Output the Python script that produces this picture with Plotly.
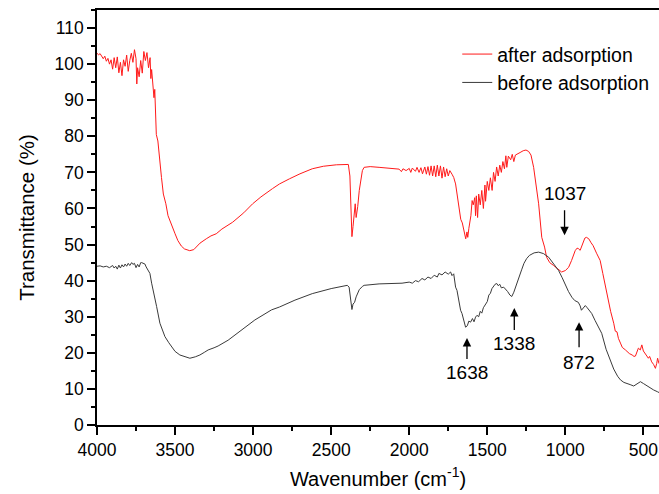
import plotly.graph_objects as go

# ---------------- data ----------------
wn_after = [4000, 3990, 3980, 3970, 3960, 3950, 3940, 3930, 3920, 3910, 3900, 3890, 3880, 3870, 3860,
            3850, 3840, 3830, 3820, 3810, 3800, 3790, 3780, 3770, 3760, 3750, 3745, 3740, 3730, 3720,
            3710, 3700, 3690, 3680, 3670, 3660, 3655, 3650, 3640, 3635, 3630, 3625, 3620, 3610, 3600,
            3590, 3587, 3575, 3559, 3545, 3523, 3500, 3482, 3460, 3440, 3406, 3380, 3360, 3340, 3300,
            3270, 3236, 3200, 3131, 3060, 3003, 2950, 2876, 2831, 2768, 2700, 2621, 2550, 2467, 2400,
            2390, 2380, 2372, 2367, 2360, 2352, 2346, 2340, 2330, 2320, 2310, 2300, 2289, 2250, 2193,
            2150, 2100, 2065, 2050, 2040, 2020, 2000, 1990, 1980, 1960, 1950, 1937, 1925, 1915, 1900,
            1890, 1880, 1870, 1860, 1850, 1840, 1830, 1820, 1810, 1800, 1790, 1780, 1770, 1760, 1750,
            1740, 1726, 1715, 1703, 1690, 1682, 1670, 1660, 1650, 1645, 1638, 1630, 1625, 1618, 1605,
            1597, 1590, 1580, 1575, 1570, 1562, 1555, 1545, 1535, 1525, 1515, 1511, 1500, 1490, 1480,
            1469, 1460, 1450, 1440, 1430, 1420, 1410, 1400, 1390, 1381, 1375, 1365, 1350, 1340, 1330,
            1320, 1309, 1290, 1270, 1252, 1235, 1220, 1203, 1190, 1171, 1151, 1133, 1120, 1100, 1075,
            1050, 1024, 1000, 979, 960, 937, 925, 917, 905, 890, 875, 865, 850, 835, 822,
            800, 777, 760, 740, 723, 710, 690, 680, 669, 660, 647, 635, 615, 600, 590,
            572, 560, 551, 540, 532, 520, 510, 500, 489, 480, 468, 460, 447, 435, 423,
            415, 409, 400]
t_after = [103.0, 102.6, 102.9, 102.0, 101.5, 102.2, 100.8, 101.6, 100.0, 101.2, 98.6, 101.8, 99.0, 102.0, 97.6,
           100.5, 96.8, 101.2, 99.4, 102.5, 98.0, 101.0, 103.0, 100.5, 104.0, 101.5, 94.5, 99.0, 96.5, 101.0,
           97.5, 103.5, 101.0, 103.2, 99.0, 101.8, 96.0, 98.5, 94.0, 90.7, 93.0, 84.0, 80.5, 78.7, 73.5,
           70.5, 68.6, 64.0, 61.3, 58.0, 55.8, 53.0, 51.1, 49.6, 48.8, 48.3, 48.6, 49.5, 50.4, 51.6,
           52.4, 53.0, 54.3, 56.2, 58.8, 61.3, 63.2, 65.5, 66.8, 68.2, 69.6, 71.0, 71.7, 72.1, 72.3,
           72.2, 69.0, 60.0, 52.2, 55.0, 60.0, 61.3, 57.5, 60.5, 65.0, 68.5, 70.5, 71.4, 71.6, 71.4,
           71.3, 71.0, 70.9, 70.2, 71.0, 70.5, 71.1, 70.0, 71.2, 70.3, 71.4, 70.0, 71.3, 69.6, 71.5,
           69.5, 71.6, 69.2, 71.8, 69.0, 71.8, 68.8, 72.0, 69.0, 71.8, 68.4, 71.5, 68.8, 71.0, 69.0,
           70.5, 69.5, 68.6, 66.8, 62.5, 60.3, 57.0, 56.0, 53.9, 53.0, 51.6, 53.5, 52.0, 54.5, 58.0,
           62.2, 61.0, 63.0, 58.0, 63.5, 57.5, 64.0, 61.0, 65.0, 60.0, 66.5, 62.0, 67.5, 65.0, 68.5,
           65.0, 70.0, 67.5, 71.5, 69.0, 72.0, 70.0, 73.0, 71.0, 74.6, 71.4, 74.5, 73.5, 75.0, 73.0,
           74.8, 75.0, 75.5, 76.0, 76.2, 75.8, 74.8, 71.4, 67.0, 61.3, 52.0, 49.3, 46.5, 45.0, 44.2,
           43.2, 42.4, 42.8, 43.7, 45.6, 48.3, 49.0, 48.9, 48.4, 50.0, 51.8, 52.0, 51.6, 50.5, 49.7,
           47.6, 45.6, 42.0, 37.5, 34.6, 31.5, 28.2, 26.0, 25.8, 24.0, 22.7, 21.5, 20.8, 20.2, 19.8,
           19.4, 19.0, 19.1, 20.5, 21.3, 20.8, 22.2, 20.5, 19.9, 19.2, 18.5, 19.0, 17.5, 16.8, 15.7,
           17.0, 18.5, 17.0]

wn_before = [4000, 3980, 3960, 3940, 3920, 3900, 3890, 3880, 3870, 3860, 3850, 3840, 3830, 3820, 3810,
             3800, 3790, 3778, 3770, 3760, 3750, 3740, 3730, 3720, 3714, 3700, 3693, 3685, 3674, 3661,
             3650, 3640, 3630, 3618, 3597, 3580, 3565, 3540, 3522, 3500, 3469, 3440, 3405, 3370, 3341,
             3310, 3288, 3250, 3224, 3160, 3074, 2989, 2882, 2831, 2732, 2621, 2500, 2397, 2385, 2375,
             2367, 2360, 2350, 2340, 2320, 2300, 2289, 2193, 2100, 2046, 2000, 1980, 1960, 1940, 1918,
             1900, 1880, 1860, 1840, 1820, 1810, 1790, 1770, 1750, 1735, 1726, 1715, 1703, 1694, 1682,
             1671, 1662, 1650, 1639, 1628, 1618, 1607, 1595, 1585, 1575, 1566, 1555, 1545, 1535, 1525,
             1511, 1500, 1490, 1480, 1470, 1460, 1450, 1439, 1430, 1420, 1410, 1395, 1380, 1370, 1355,
             1343, 1330, 1315, 1299, 1280, 1265, 1248, 1230, 1200, 1171, 1140, 1107, 1075, 1043, 1020,
             1000, 980, 958, 940, 917, 905, 897, 885, 872, 860, 845, 831, 810, 782, 767,
             739, 715, 690, 665, 647, 625, 605, 585, 562, 540, 519, 500, 476, 455, 434,
             409, 400]
t_before = [44.0, 44.1, 43.8, 44.0, 43.6, 44.2, 43.5, 44.0, 43.2, 44.3, 43.5, 44.4, 43.8, 44.6, 44.0,
            44.8, 44.2, 45.0, 44.5, 44.8, 43.6, 44.5, 43.8, 45.0, 45.0, 44.6, 44.6, 43.8, 42.9, 42.0,
            39.3, 37.4, 34.8, 32.8, 28.2, 26.0, 24.5, 22.8, 21.7, 20.4, 19.4, 18.9, 18.5, 18.9, 19.4,
            20.2, 20.8, 21.4, 21.9, 23.5, 26.3, 29.1, 31.9, 32.7, 34.6, 36.4, 37.8, 38.7, 38.2, 35.0,
            32.0, 33.5, 34.0, 35.5, 37.5, 38.4, 38.7, 39.1, 39.2, 39.3, 39.6, 39.3, 40.0, 39.7, 40.6,
            40.2, 41.0, 40.6, 41.5, 41.0, 42.0, 41.6, 42.4, 41.8, 42.4, 41.4, 41.9, 38.2, 37.3, 34.0,
            31.8, 30.9, 28.5, 27.1, 27.5, 28.8, 28.5, 29.5, 28.6, 29.9, 30.4, 30.0, 31.5, 31.0, 32.5,
            33.7, 34.2, 36.0, 36.5, 37.8, 38.5, 39.0, 39.2, 38.6, 39.0, 38.0, 38.2, 37.5, 37.0, 36.0,
            35.6, 36.8, 38.8, 41.0, 43.0, 44.8, 46.1, 47.0, 47.7, 47.9, 47.5, 46.5, 44.8, 42.8, 40.8,
            38.7, 37.0, 35.4, 34.5, 34.0, 33.0, 31.8, 32.5, 33.1, 32.5, 31.6, 30.9, 29.0, 26.8, 25.4,
            21.0, 18.0, 15.5, 13.5, 12.5, 11.8, 11.6, 11.2, 10.8, 11.3, 12.0, 11.5, 10.8, 10.2, 9.7,
            9.2, 9.0]

series_names = ["after adsorption", "before adsorption"]
x_tickvals = [4000, 3500, 3000, 2500, 2000, 1500, 1000, 500]
y_tickvals = [0, 10, 20, 30, 40, 50, 60, 70, 80, 90, 100, 110]

peak_labels = ["1037", "1638", "1338", "872"]
# arrow head (wavenumber, transmittance) and label offset from the head in px
peak_head_x = [1005, 1630, 1327, 912]
peak_head_y = [52.6, 24.1, 32.4, 28.5]
peak_label_dy = [-42, 34, 35, 40]
peak_start_gap = [5, 1, 1, 3]

FONT = "Liberation Sans, Arial, Helvetica, sans-serif"

fig = go.Figure()
fig.add_trace(go.Scatter(x=wn_after, y=t_after, mode="lines", name=series_names[0],
                         line=dict(color="#ff1a1a", width=1)))
fig.add_trace(go.Scatter(x=wn_before, y=t_before, mode="lines", name=series_names[1],
                         line=dict(color="#3a3a3a", width=1)))

annotations = []
for lab, hx, hy, dy, gap in zip(peak_labels, peak_head_x, peak_head_y, peak_label_dy, peak_start_gap):
    annotations.append(dict(x=hx, y=hy, xref="x", yref="y", text=lab, showarrow=True,
                            ax=0, ay=dy, arrowhead=2, arrowsize=1.3, arrowwidth=1.3,
                            arrowcolor="black", startstandoff=gap,
                            font=dict(family=FONT, size=19, color="black")))

fig.update_layout(
    width=659, height=494,
    margin=dict(l=97, r=0, t=10, b=69),
    paper_bgcolor="white", plot_bgcolor="white",
    font=dict(family=FONT, color="black"),
    showlegend=True,
    legend=dict(x=0.641, y=0.94, xanchor="left", yanchor="top",
                bgcolor="rgba(0,0,0,0)", borderwidth=0,
                font=dict(family=FONT, size=19.5, color="black"),
                tracegroupgap=0),
    annotations=annotations,
)
fig.update_xaxes(
    range=[4000, 400], tickvals=x_tickvals, ticks="outside", ticklen=8, tickwidth=1.5,
    tickcolor="black", showline=True, linecolor="black", linewidth=1.5, mirror=True,
    showgrid=False, zeroline=False, tickfont=dict(family=FONT, size=17.5, color="black"),
    minor=dict(ticks="outside", ticklen=4, tickwidth=1.5, tickcolor="black", dtick=250, tick0=0,
               showgrid=False),
    title=dict(text="Wavenumber (cm<sup>-1</sup>)", font=dict(family=FONT, size=20, color="black"),
               standoff=13),
)
fig.update_yaxes(
    range=[0, 115], tickvals=y_tickvals, ticks="outside", ticklen=8, tickwidth=1.5,
    tickcolor="black", showline=True, linecolor="black", linewidth=1.5, mirror=False,
    showgrid=False, zeroline=False, tickfont=dict(family=FONT, size=17.5, color="black"),
    minor=dict(ticks="outside", ticklen=4, tickwidth=1.5, tickcolor="black", dtick=5, tick0=0,
               showgrid=False),
    title=dict(text="Transmittance (%)", font=dict(family=FONT, size=20.5, color="black"),
               standoff=14),
)

fig.write_html("out.html")
